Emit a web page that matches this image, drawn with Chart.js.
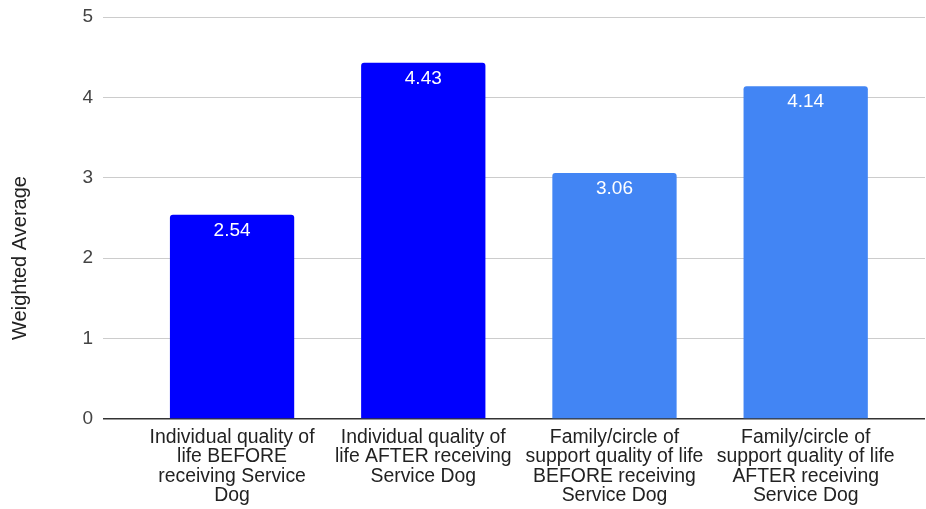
<!DOCTYPE html>
<html>
<head>
<meta charset="utf-8">
<script src="https://cdn.jsdelivr.net/npm/chart.js@4"></script>
<style>
  html, body { margin: 0; padding: 0; background: #fff; }
  #wrap { width: 926px; height: 509px; }
</style>
</head>
<body>
<div id="wrap"><canvas id="c"></canvas></div>
<script>
const categories = [
  ["Individual quality of", "life BEFORE", "receiving Service", "Dog"],
  ["Individual quality of", "life AFTER receiving", "Service Dog"],
  ["Family/circle of", "support quality of life", "BEFORE receiving", "Service Dog"],
  ["Family/circle of", "support quality of life", "AFTER receiving", "Service Dog"]
];
const values = [2.54, 4.43, 3.06, 4.14];
const barColors = ["#0000ff", "#0000ff", "#4285f4", "#4285f4"];
const yTicks = [0, 1, 2, 3, 4, 5];
const yTitle = "Weighted Average";

const FONT = "'Liberation Sans', Arial, sans-serif";

const extras = {
  id: 'extras',
  afterDatasetsDraw(chart) {
    const ctx = chart.ctx;
    const meta = chart.getDatasetMeta(0);
    ctx.save();
    ctx.fillStyle = '#ffffff';
    ctx.font = '19px ' + FONT;
    ctx.textAlign = 'center';
    ctx.textBaseline = 'middle';
    meta.data.forEach((bar, i) => {
      ctx.fillText(values[i].toFixed(2), bar.x, bar.y + 16);
    });
    // y axis title
    ctx.fillStyle = '#222222';
    ctx.font = '20px ' + FONT;
    ctx.translate(20, 258);
    ctx.rotate(-Math.PI / 2);
    ctx.fillText(yTitle, 0, 0);
    ctx.restore();
  }
};

new Chart(document.getElementById('c'), {
  type: 'bar',
  data: {
    datasets: [{
      data: values.map((v, i) => ({ x: i, y: v })),
      backgroundColor: barColors,
      borderRadius: { topLeft: 3, topRight: 3 },
      borderSkipped: 'bottom',
      barPercentage: 0.65,
      categoryPercentage: 1.0
    }]
  },
  options: {
    responsive: true,
    maintainAspectRatio: false,
    animation: false,
    layout: { padding: { top: 17, right: 1, left: 0, bottom: 0 } },
    plugins: { legend: { display: false }, tooltip: { enabled: false } },
    scales: {
      x: {
        type: 'linear',
        min: -0.675,
        max: 3.624,
        offset: false,
        bounds: 'data',
        grid: { display: false, drawTicks: false, offset: false },
        border: { display: false },
        afterBuildTicks(scale) {
          scale.ticks = categories.map((c, i) => ({ value: i }));
        },
        afterFit(scale) { scale.height = 90; },
        ticks: {
          autoSkip: false,
          maxRotation: 0,
          padding: 9,
          color: '#222',
          font: { family: FONT, size: 19.4, lineHeight: 1.0 },
          callback: (v) => categories[v] || ''
        }
      },
      y: {
        min: 0,
        max: 5,
        afterBuildTicks(scale) {
          scale.ticks = yTicks.map(v => ({ value: v }));
        },
        grid: {
          color: (ctx) => ctx.tick && ctx.tick.value === 0 ? '#333333' : '#cccccc',
          lineWidth: (ctx) => ctx.tick && ctx.tick.value === 0 ? 1.5 : 1,
          drawTicks: false
        },
        border: { display: false },
        afterFit(scale) {
          scale.width = 103;
          scale.paddingTop = 0;
          scale.paddingBottom = 0;
        },
        ticks: {
          padding: 10,
          color: '#444',
          font: { family: FONT, size: 19 }
        }
      }
    }
  },
  plugins: [extras]
});
</script>
</body>
</html>
